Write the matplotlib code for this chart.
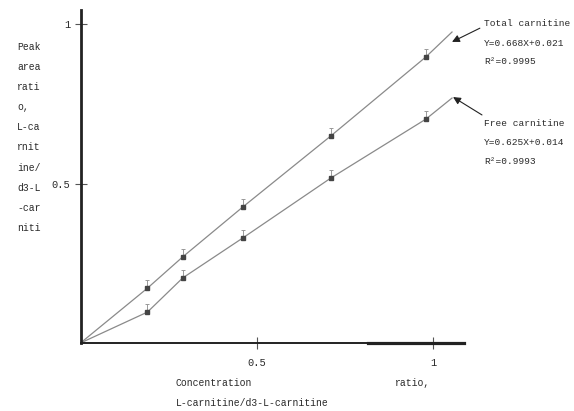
import matplotlib.pyplot as plt

# values
conc = [0.19, 0.29, 0.46, 0.71, 0.98]
total = [0.172, 0.270, 0.426, 0.649, 0.897]
free = [0.097, 0.204, 0.329, 0.517, 0.702]
line_end_x = 1.054
total_end = 0.975
free_end = 0.768

total_text = ["Total carnitine", "Y=0.668X+0.021", "R²=0.9995"]
free_text = ["Free carnitine", "Y=0.625X+0.014", "R²=0.9993"]
ylabel_parts = ["Peak", "area", "rati", "o,", "L-ca", "rnit", "ine/", "d3-L", "-car", "niti"]

plt.rcParams['font.family'] = ['Liberation Mono', 'DejaVu Sans Mono']
txt = '#2a2a2a'

fig = plt.figure(figsize=(5.74, 4.11), dpi=100)
ax = fig.add_axes([80.5 / 574, 1 - 343 / 411, 383.5 / 574, 333 / 411])

for ys, end in [(total, total_end), (free, free_end)]:
    ax.plot([0] + conc + [line_end_x], [0] + ys + [end], color='#8a8a8a', lw=0.9)
    ax.errorbar(conc, ys, yerr=[[0] * len(ys), [0.025] * len(ys)], fmt='s', ms=2.8,
                color='#444444', ecolor='#999999', elinewidth=0.7, capsize=1.2, capthick=0.7)

ax.set_xlim(0, 1.088)
ax.set_ylim(0, 1.044)
ax.set_xticks([0.5, 1])
ax.set_xticklabels(['0.5', '1'])
ax.set_yticks([0.5, 1])
ax.set_yticklabels(['0.5', '1'])
ax.tick_params(direction='inout', length=9, width=0.8, colors='#555555', labelcolor=txt,
               labelsize=7.5)
ax.tick_params(axis='x', pad=6)
ax.tick_params(axis='y', pad=3)

for s in ['top', 'right']:
    ax.spines[s].set_visible(False)
ax.spines['left'].set_linewidth(2)
ax.spines['bottom'].set_linewidth(1.4)
ax.spines['left'].set_color('#222222')
ax.spines['bottom'].set_color('#222222')
ax.axhline(0, xmin=0.75, xmax=1, color='#222222', lw=2.3, clip_on=False)

# arrows to the two lines
ax.annotate('', xy=(1.054, 0.944), xytext=(1.133, 0.987), annotation_clip=False,
            arrowprops=dict(arrowstyle='-|>', color='#222222', lw=0.8,
                            mutation_scale=11, shrinkA=0, shrinkB=0))
ax.annotate('', xy=(1.057, 0.771), xytext=(1.139, 0.715), annotation_clip=False,
            arrowprops=dict(arrowstyle='-|>', color='#222222', lw=0.8,
                            mutation_scale=11, shrinkA=0, shrinkB=0))

for i, t in enumerate(total_text):
    fig.text(484 / 574, 1 - (24 + 19 * i) / 411, t, fontsize=6.8, color=txt, va='center')
for i, t in enumerate(free_text):
    fig.text(484 / 574, 1 - (123 + 19.5 * i) / 411, t, fontsize=6.8, color=txt, va='center')

for i, t in enumerate(ylabel_parts):
    fig.text(17 / 574, 1 - (47 + 20.1 * i) / 411, t, fontsize=7, color=txt, va='center')

fig.text(176 / 574, 1 - 383 / 411, "Concentration", fontsize=7, color=txt, va='center')
fig.text(176 / 574, 1 - 403 / 411, "L-carnitine/d3-L-carnitine", fontsize=7, color=txt,
         va='center')
fig.text(395 / 574, 1 - 383 / 411, "ratio,", fontsize=7, color=txt, va='center')

fig.savefig('out.png', dpi=100)
